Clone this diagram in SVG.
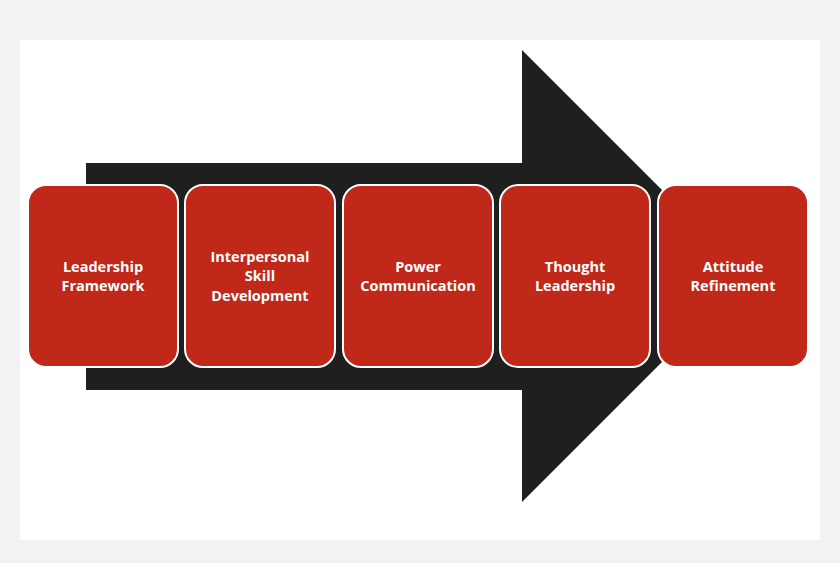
<svg xmlns="http://www.w3.org/2000/svg" width="840" height="563" viewBox="0 0 840 563">
<style>
.b{fill:#c0291a;stroke:#fff;stroke-width:2}
.t{fill:#fff;font-family:"Open Sans","Liberation Sans",sans-serif;font-weight:bold;font-size:14.5px;text-anchor:middle}
</style>
<rect width="840" height="563" fill="#f2f2f2"/>
<rect x="20" y="40" width="800" height="500" fill="#fff"/>
<g id="connectors">
<path d="M86 163 H522 V50 L748 276 L522 502 V390 H86 Z" fill="#1f1f1f"/>
</g>
<g id="n1"><rect class="b" x="28" y="185" width="150" height="182" rx="18"/><text class="t" x="103" y="272">Leadership</text><text class="t" x="103" y="291">Framework</text></g>
<g id="n2"><rect class="b" x="185" y="185" width="150" height="182" rx="18"/><text class="t" x="260" y="262">Interpersonal</text><text class="t" x="260" y="281">Skill</text><text class="t" x="260" y="301">Development</text></g>
<g id="n3"><rect class="b" x="343" y="185" width="150" height="182" rx="18"/><text class="t" x="418" y="272">Power</text><text class="t" x="418" y="291">Communication</text></g>
<g id="n4"><rect class="b" x="500" y="185" width="150" height="182" rx="18"/><text class="t" x="575" y="272">Thought</text><text class="t" x="575" y="291">Leadership</text></g>
<g id="n5"><rect class="b" x="658" y="185" width="150" height="182" rx="18"/><text class="t" x="733" y="272">Attitude</text><text class="t" x="733" y="291">Refinement</text></g>
</svg>
